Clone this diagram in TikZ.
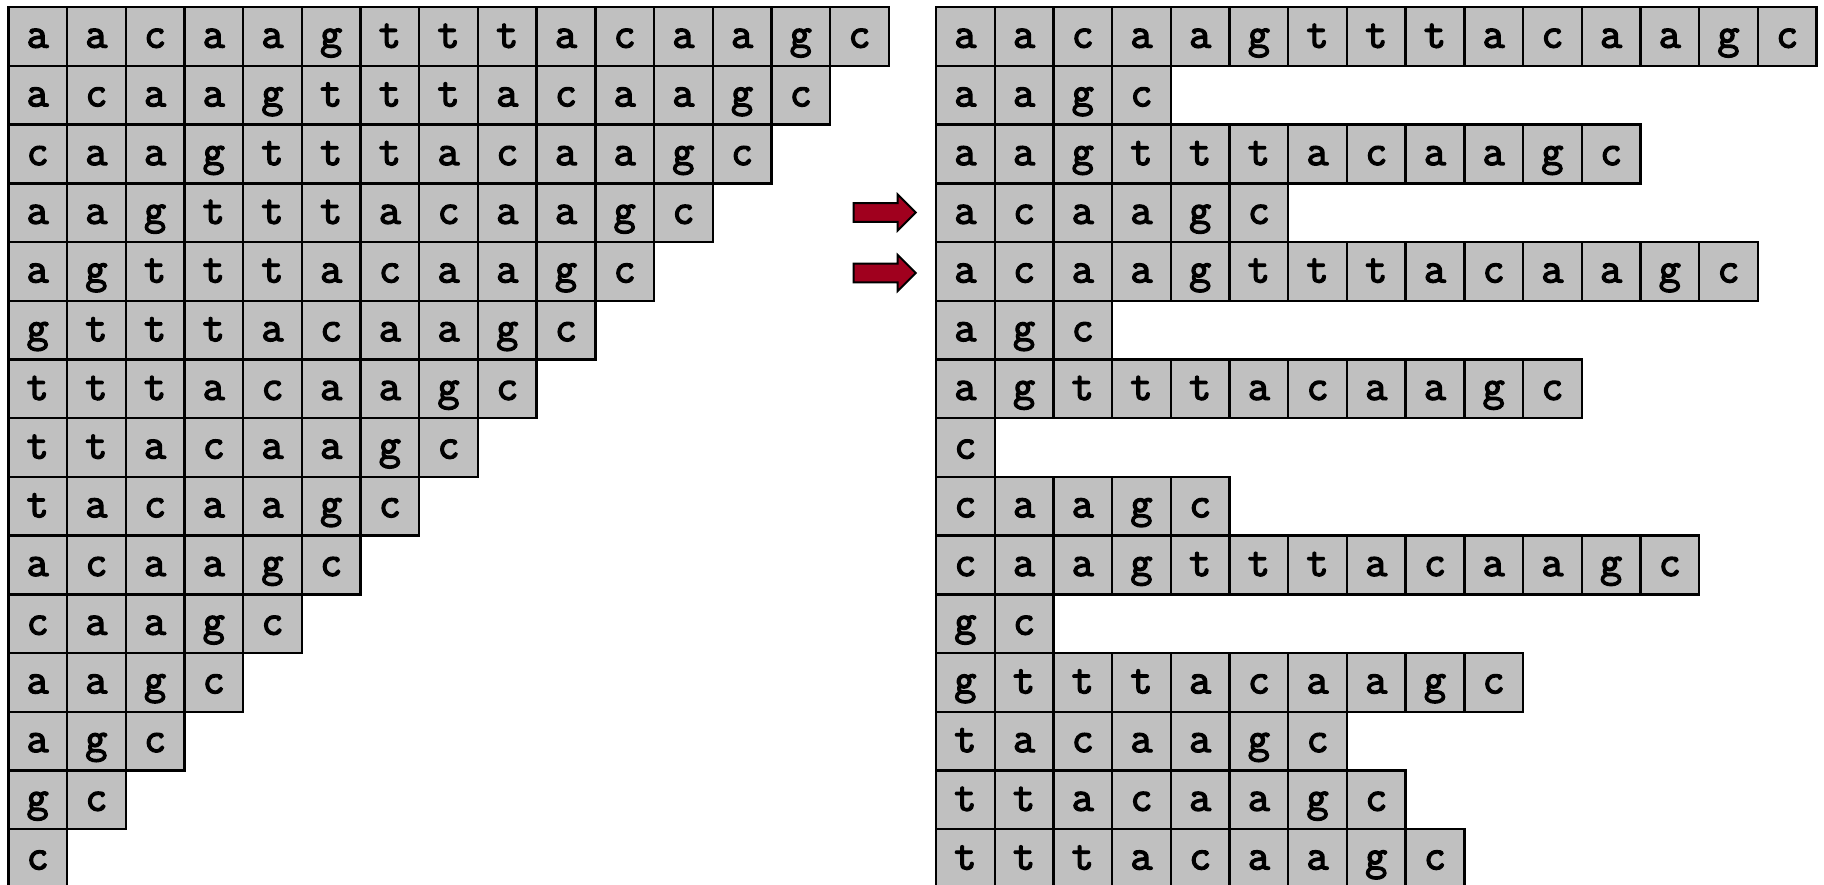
\documentclass[tikz,border=0pt]{standalone}
\usepackage{fontspec}
\setmonofont{Latin Modern Mono}[AutoFakeBold=3]
\usetikzlibrary{shapes.arrows}
\definecolor{cellgray}{HTML}{C0C0C0}
\definecolor{arrowred}{HTML}{A0001E}
\tikzset{
  cellbox/.style={draw=black, fill=cellgray, line width=2.4pt, minimum width=58.7pt, minimum height=58.7pt,
    inner sep=0pt, text height=22pt, text depth=0pt, font=\fontsize{43}{43}\selectfont\ttfamily\bfseries},
  pointer/.style={single arrow, draw=black, fill=arrowred, line width=2pt,
    text height=0pt, text depth=0pt, text width=0pt, inner xsep=0pt, inner ysep=8.35pt,
    single arrow head extend=8.65pt, minimum height=62pt}
}
\newcommand\cw{58.7}
\newcommand\yz{7.3}
\newcommand\seqrow[4]{%
  \foreach \ch [count=\c from 0] in {#4} {%
    \node[cellbox] (#1-#3-\c) at ({#2+(\c+0.5)*\cw}, {\yz+(#3+0.5)*\cw}) {\ch};
  }}
\begin{document}
\begin{tikzpicture}[x=1pt, y=-1pt]
\useasboundingbox (0,0) rectangle (1824,885);
\begin{scope}
\clip (0,0) rectangle (1824,885);
% left: all suffixes
\seqrow{L}{8.3}{0}{a,a,c,a,a,g,t,t,t,a,c,a,a,g,c}
\seqrow{L}{8.3}{1}{a,c,a,a,g,t,t,t,a,c,a,a,g,c}
\seqrow{L}{8.3}{2}{c,a,a,g,t,t,t,a,c,a,a,g,c}
\seqrow{L}{8.3}{3}{a,a,g,t,t,t,a,c,a,a,g,c}
\seqrow{L}{8.3}{4}{a,g,t,t,t,a,c,a,a,g,c}
\seqrow{L}{8.3}{5}{g,t,t,t,a,c,a,a,g,c}
\seqrow{L}{8.3}{6}{t,t,t,a,c,a,a,g,c}
\seqrow{L}{8.3}{7}{t,t,a,c,a,a,g,c}
\seqrow{L}{8.3}{8}{t,a,c,a,a,g,c}
\seqrow{L}{8.3}{9}{a,c,a,a,g,c}
\seqrow{L}{8.3}{10}{c,a,a,g,c}
\seqrow{L}{8.3}{11}{a,a,g,c}
\seqrow{L}{8.3}{12}{a,g,c}
\seqrow{L}{8.3}{13}{g,c}
\seqrow{L}{8.3}{14}{c}
% right: sorted suffixes
\seqrow{R}{936}{0}{a,a,c,a,a,g,t,t,t,a,c,a,a,g,c}
\seqrow{R}{936}{1}{a,a,g,c}
\seqrow{R}{936}{2}{a,a,g,t,t,t,a,c,a,a,g,c}
\seqrow{R}{936}{3}{a,c,a,a,g,c}
\seqrow{R}{936}{4}{a,c,a,a,g,t,t,t,a,c,a,a,g,c}
\seqrow{R}{936}{5}{a,g,c}
\seqrow{R}{936}{6}{a,g,t,t,t,a,c,a,a,g,c}
\seqrow{R}{936}{7}{c}
\seqrow{R}{936}{8}{c,a,a,g,c}
\seqrow{R}{936}{9}{c,a,a,g,t,t,t,a,c,a,a,g,c}
\seqrow{R}{936}{10}{g,c}
\seqrow{R}{936}{11}{g,t,t,t,a,c,a,a,g,c}
\seqrow{R}{936}{12}{t,a,c,a,a,g,c}
\seqrow{R}{936}{13}{t,t,a,c,a,a,g,c}
\seqrow{R}{936}{14}{t,t,t,a,c,a,a,g,c}
\end{scope}
\node[pointer] (arrowA) at (880,212.5) {};
\node[pointer] (arrowB) at (880,273) {};
\end{tikzpicture}
\end{document}
